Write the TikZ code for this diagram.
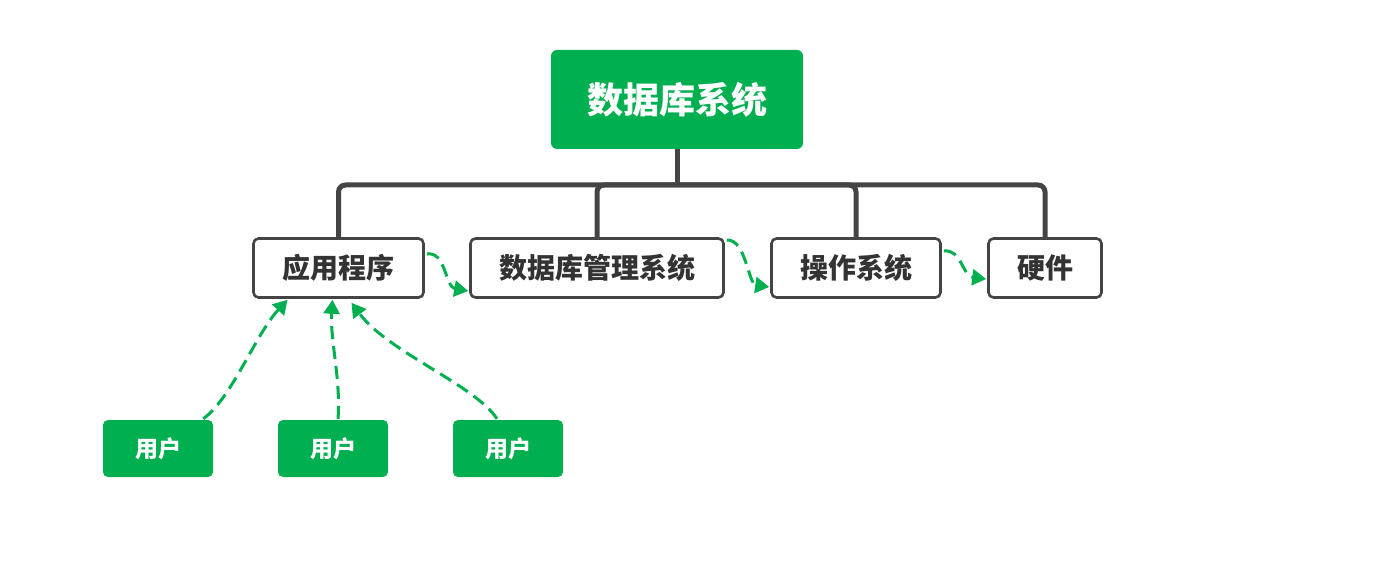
\documentclass[tikz,border=0pt]{standalone}
\usepackage{fontspec}
\setmainfont{Noto Sans CJK SC}
\usetikzlibrary{arrows.meta,calc}
\definecolor{boxgreen}{RGB}{0,176,80}
\definecolor{linegray}{RGB}{68,68,68}
\definecolor{txtgray}{RGB}{51,51,51}
\begin{document}
\begin{tikzpicture}[x=1pt,y=-1pt,
  rootbox/.style={fill=boxgreen,rounded corners=6pt,minimum width=252pt,minimum height=99pt,inner sep=0pt,text=white,font=\fontsize{36}{40}\selectfont\bfseries},
  partbox/.style={draw=linegray,line width=2.6pt,fill=white,rounded corners=5pt,minimum height=59pt,inner sep=0pt,text=txtgray,font=\fontsize{28}{32}\selectfont\bfseries},
  userbox/.style={fill=boxgreen,rounded corners=5pt,minimum width=110pt,minimum height=57pt,inner sep=0pt,text=white,font=\fontsize{23}{27}\selectfont\bfseries},
  tree/.style={draw=linegray,line width=5pt,rounded corners=7pt},
  flow/.style={draw=boxgreen,line width=3pt,dash pattern=on 13pt off 7pt,-{Triangle[length=14pt,width=16pt]}}
]
\useasboundingbox (0,0) rectangle (1390,575);
\node[rootbox] (root) at (677,99.5) {数据库系统};
\node[partbox,minimum width=170pt] (app) at (338.5,268) {应用程序};
\node[partbox,minimum width=253pt] (dbms) at (597,268) {数据库管理系统};
\node[partbox,minimum width=169pt] (os) at (856,268) {操作系统};
\node[partbox,minimum width=113pt] (hw) at (1045,268) {硬件};
\node[userbox] (u1) at (158,448.5) {用户};
\node[userbox] (u2) at (333,448.5) {用户};
\node[userbox] (u3) at (508,448.5) {用户};
% tree
\coordinate (junc) at (677,185);
\path[tree] (root.south) -- (junc);
\path[tree] (junc) -| (app.north);
\path[tree] (junc) -| (dbms.north);
\path[tree] (junc) -| (os.north);
\path[tree] (junc) -| (hw.north);
% flows between parts
\draw[flow] ($(app.east)+(2,-14)$) .. controls (446,251) and (445,287) .. ($(dbms.west)+(-1,23)$);
\draw[flow] ($(dbms.east)+(2,-28)$) .. controls (746,239) and (748,284) .. ($(os.west)+(-1,19)$);
\draw[flow] ($(os.east)+(2,-17)$) .. controls (962,249) and (962,276) .. ($(hw.west)+(-1,11)$);
% users
\draw[flow] ($(u1.north east)+(-10,-1)$) .. controls (232,398) and (255,335) .. ($(app.south)+(-51,1)$);
\draw[flow] ($(u2.north)+(5,-1)$) .. controls (341,380) and (330,340) .. ($(app.south)+(-6,1)$);
\draw[flow] ($(u3.north)+(-11,-1)$) .. controls (475,385) and (388,352) .. ($(app.south)+(13,4)$);
\end{tikzpicture}
\end{document}
